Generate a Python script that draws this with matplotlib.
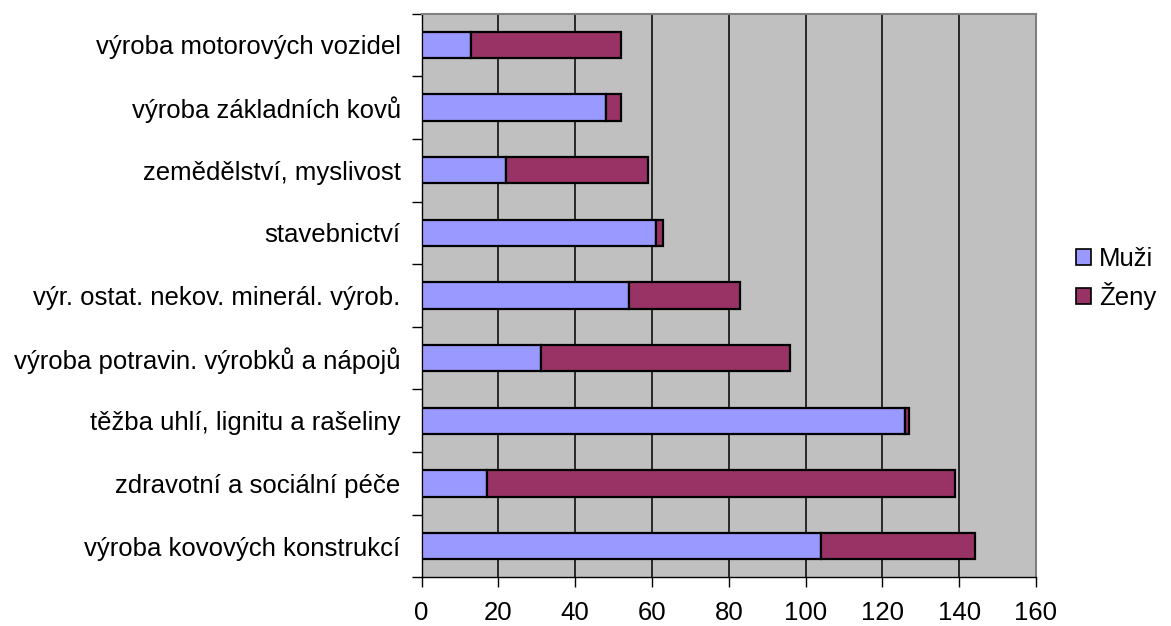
import numpy as np
import matplotlib.pyplot as plt
from matplotlib.patches import Patch

plt.rcParams['font.family'] = ['Liberation Sans', 'DejaVu Sans']

# categories from bottom to top
kategorie = ['výroba kovových konstrukcí', 'zdravotní a sociální péče',
             'těžba uhlí, lignitu a rašeliny', 'výroba potravin. výrobků a nápojů',
             'výr. ostat. nekov. minerál. výrob.', 'stavebnictví',
             'zemědělství, myslivost', 'výroba základních kovů',
             'výroba motorových vozidel']
muzi = [104, 17, 126, 31, 54, 61, 22, 48, 13]
zeny = [40, 122, 1, 65, 29, 2, 37, 4, 39]
xticks = [0, 20, 40, 60, 80, 100, 120, 140, 160]

c_muzi = '#9999FF'
c_zeny = '#993366'
fs = 18.5

fig = plt.figure(figsize=(11.71, 6.26), dpi=100)
ax = fig.add_axes([0.36, 0.0775, 0.8847 - 0.36, 0.9784 - 0.0775])
ax.set_facecolor('#C0C0C0')

y = np.arange(len(kategorie))
ax.barh(y, muzi, height=0.42, color=c_muzi, edgecolor='black', linewidth=1.6, zorder=3)
ax.barh(y, zeny, left=muzi, height=0.42, color=c_zeny, edgecolor='black', linewidth=1.6, zorder=3)

ax.set_xlim(0, 160)
ax.set_ylim(-0.5, len(kategorie) - 0.5)
ax.set_xticks(xticks)
ax.set_xticklabels([str(v) for v in xticks], fontsize=fs)
ax.xaxis.grid(True, color='black', linewidth=1.1, zorder=1)
ax.set_axisbelow(True)

ax.set_yticks(y)
ax.set_yticklabels(kategorie, fontsize=fs)
ax.set_yticks(np.arange(-0.5, len(kategorie)), minor=True)
ax.tick_params(axis='y', which='major', length=0, pad=15)
ax.tick_params(axis='y', which='minor', length=7, width=1, color='black')
ax.tick_params(axis='x', length=7, width=1, pad=10)

for s in ['top', 'right']:
    ax.spines[s].set_color('#808080')
    ax.spines[s].set_linewidth(1.5)
for s in ['left', 'bottom']:
    ax.spines[s].set_color('black')
    ax.spines[s].set_linewidth(1)

handles = [Patch(facecolor=c_muzi, edgecolor='black', linewidth=1.2, label='Muži'),
           Patch(facecolor=c_zeny, edgecolor='black', linewidth=1.2, label='Ženy')]
fig.legend(handles=handles, loc='center left', bbox_to_anchor=(0.91, 0.555),
           frameon=False, fontsize=fs, handlelength=0.6, handleheight=0.6,
           handletextpad=0.3, labelspacing=0.45, borderaxespad=0)

fig.savefig('out.png', dpi=100)
